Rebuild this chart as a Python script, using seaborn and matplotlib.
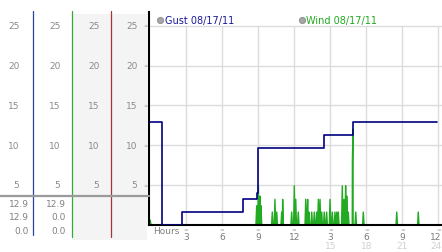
import matplotlib
matplotlib.use("Agg")
import numpy as np
import pandas as pd
import seaborn as sns
import matplotlib.pyplot as plt
from matplotlib.lines import Line2D
from matplotlib.patches import Rectangle
from matplotlib import transforms

# ---------------- data ----------------
gust_hours = [0.0, 1.00, 1.03, 2.71, 7.78, 8.91, 9.03, 14.52, 16.89, 23.88]
gust_speed = [12.9, 6.4, 0.0, 1.6, 3.2, 4.0, 9.7, 11.3, 12.9, 12.9]

wind_spike_hours = [0.03, 8.88, 9.02, 9.16, 9.24, 10.18, 10.40, 10.55, 10.96, 11.04,
                    11.79, 12.01, 12.13, 12.34, 12.96, 13.12, 13.23, 13.46, 13.67,
                    13.87, 14.01, 14.15, 14.29, 14.50, 14.70, 14.98, 15.17, 15.39,
                    15.54, 15.67, 16.00, 16.14, 16.28, 16.37, 16.50, 16.84, 16.89,
                    17.12, 17.75, 20.53, 22.32]
wind_spike_speed = [0.6, 2.4, 4.9, 3.6, 2.4, 1.6, 3.2, 1.6, 1.6, 3.2,
                    1.6, 4.9, 3.2, 1.6, 3.2, 3.2, 1.6, 1.6, 1.6,
                    1.6, 3.2, 3.2, 1.6, 1.6, 1.6, 3.2, 1.6, 1.6,
                    1.6, 1.6, 4.9, 3.2, 4.9, 3.6, 1.6, 8.0, 12.0,
                    1.6, 1.6, 1.6, 1.6]

scale_values = [5, 10, 15, 20, 25]
x_ticks = [3, 6, 9, 12, 15, 18, 21, 24]
x_tick_labels = ["3", "6", "9", "12", "3", "6", "9", "12"]
x_ticks_day2 = [15, 18, 21, 24]
x_tick_labels_day2 = ["15", "18", "21", "24"]
gust_readout = ["12.9", "12.9", "0.0"]
wind_readout = ["12.9", "0.0", "0.0"]
gust_label = "Gust 08/17/11"
wind_label = "Wind 08/17/11"

# ---------------- tables ----------------
gust_df = pd.DataFrame({"hour": gust_hours, "speed": gust_speed})
half = 0.06
wt, wv = [0.0], [0.0]
for t, v in zip(wind_spike_hours, wind_spike_speed):
    wt += [max(t - half, 0.0), t, t + half]
    wv += [0.0, v, 0.0]
wt.append(24.0)
wv.append(0.0)
wind_df = pd.DataFrame({"hour": wt, "speed": wv})

# ---------------- style ----------------
sns.set_style("white")
plt.rcParams["font.family"] = ["DejaVu Sans"]

W, H = 442, 253
def fx(x):
    return x / W
def fy(y):
    return 1 - y / H

fig = plt.figure(figsize=(W / 100, H / 100), dpi=100)
y0_px, y_top_px, px_per_unit = 225.8, 13.0, 7.96
x_left_px, x_right_px, px_per_h, x0_px = 149.0, 442.0, 12.024, 149.9
ax = fig.add_axes([fx(x_left_px), fy(y0_px), fx(x_right_px) - fx(x_left_px), (y0_px - y_top_px) / H])
ax.set_xlim((x_left_px - x0_px) / px_per_h, (x_right_px - x0_px) / px_per_h)
ax.set_ylim(0, (y0_px - y_top_px) / px_per_unit)

grid_c = "#dcdcdc"
xl = ax.get_xlim()
ax.vlines(x_ticks, 0, 25, color=grid_c, lw=1, zorder=0)
ax.hlines(scale_values, xl[0], xl[1], color=grid_c, lw=1, zorder=0)

sns.lineplot(data=wind_df, x="hour", y="speed", ax=ax, color="#22aa22", lw=1.0,
             estimator=None, sort=True, zorder=2)
sns.lineplot(data=gust_df, x="hour", y="speed", ax=ax, color="#000080", lw=1.2,
             estimator=None, sort=False, drawstyle="steps-post", zorder=3)

ax.set_xlabel("")
ax.set_ylabel("")
ax.set_xticks([])
ax.set_yticks([])
for s in ["top", "right"]:
    ax.spines[s].set_visible(False)
for s in ["left", "bottom"]:
    ax.spines[s].set_color("black")
    ax.spines[s].set_linewidth(1.5)

# ---------------- x tick labels ----------------
tx = transforms.blended_transform_factory(ax.transData, fig.transFigure)
last = x_ticks[-1]
for t, lab in zip(x_ticks, x_tick_labels):
    ha = "right" if t == last else "center"
    xx = t + 0.25 if t == last else t
    fig.text(xx, fy(237.8), lab, transform=tx, ha=ha, va="center",
             fontsize=6.5, color="#7a7a7a")
    fig.text(t, fy(230.0), "≈", transform=tx, ha="center", va="center",
             fontsize=4, color="#aaaaaa")
for t, lab in zip(x_ticks_day2, x_tick_labels_day2):
    ha = "right" if t == last else "center"
    xx = t + 0.25 if t == last else t
    fig.text(xx, fy(246.3), lab, transform=tx, ha=ha, va="center",
             fontsize=6.5, color="#d0d0d0")
fig.text(fx(153), fy(232), "Hours", ha="left", va="center", fontsize=6.5, color="#808080")

# ---------------- legend ----------------
fig.add_artist(Line2D([fx(160)], [fy(20.7)], marker="o", ms=4.2, color="#a8a8a8",
                      mec="#999999", transform=fig.transFigure))
fig.text(fx(165), fy(20.7), gust_label, ha="left", va="center", fontsize=7, color="#1a1a99")
fig.add_artist(Line2D([fx(301.5)], [fy(20.7)], marker="o", ms=4.2, color="#a8a8a8",
                      mec="#999999", transform=fig.transFigure))
fig.text(fx(306.5), fy(20.7), wind_label, ha="left", va="center", fontsize=7, color="#22aa22")

# ---------------- left scale panels ----------------
fig.add_artist(Rectangle((fx(72), fy(241)), fx(147) - fx(72), (241 - 15) / H,
                         transform=fig.transFigure, color="#f4f4f4", zorder=-1, lw=0))
ty = transforms.blended_transform_factory(fig.transFigure, ax.transData)
col_right = [19.5, 60.5, 99.5, 137.5]
for v in scale_values:
    for cx in col_right:
        fig.text(fx(cx), v, str(v), transform=ty, ha="right", va="center",
                 fontsize=6.5, color="#8a8a8a")
    fig.text(fx(145.5), v, "≈", transform=ty, ha="center", va="center",
             fontsize=4, color="#aaaaaa")

for x, col, ytop, ybot in [(33, "#2a44a0", 12, 236), (72, "#33aa33", 12, 238), (111, "#aa3333", 12, 238)]:
    fig.add_artist(Line2D([fx(x), fx(x)], [fy(ytop), fy(ybot)], color=col, lw=0.9,
                          transform=fig.transFigure, zorder=2))
fig.add_artist(Line2D([fx(0), fx(149)], [fy(197), fy(197)], color="#9a9a9a", lw=1.6,
                      transform=fig.transFigure, zorder=3))

row_y = [204.5, 218.0, 231.5]
for y, g, w in zip(row_y, gust_readout, wind_readout):
    fig.text(fx(28.5), fy(y), g, ha="right", va="center", fontsize=6.5, color="#808080")
    fig.text(fx(65.5), fy(y), w, ha="right", va="center", fontsize=6.5, color="#808080")

fig.savefig("out.png", dpi=100)
